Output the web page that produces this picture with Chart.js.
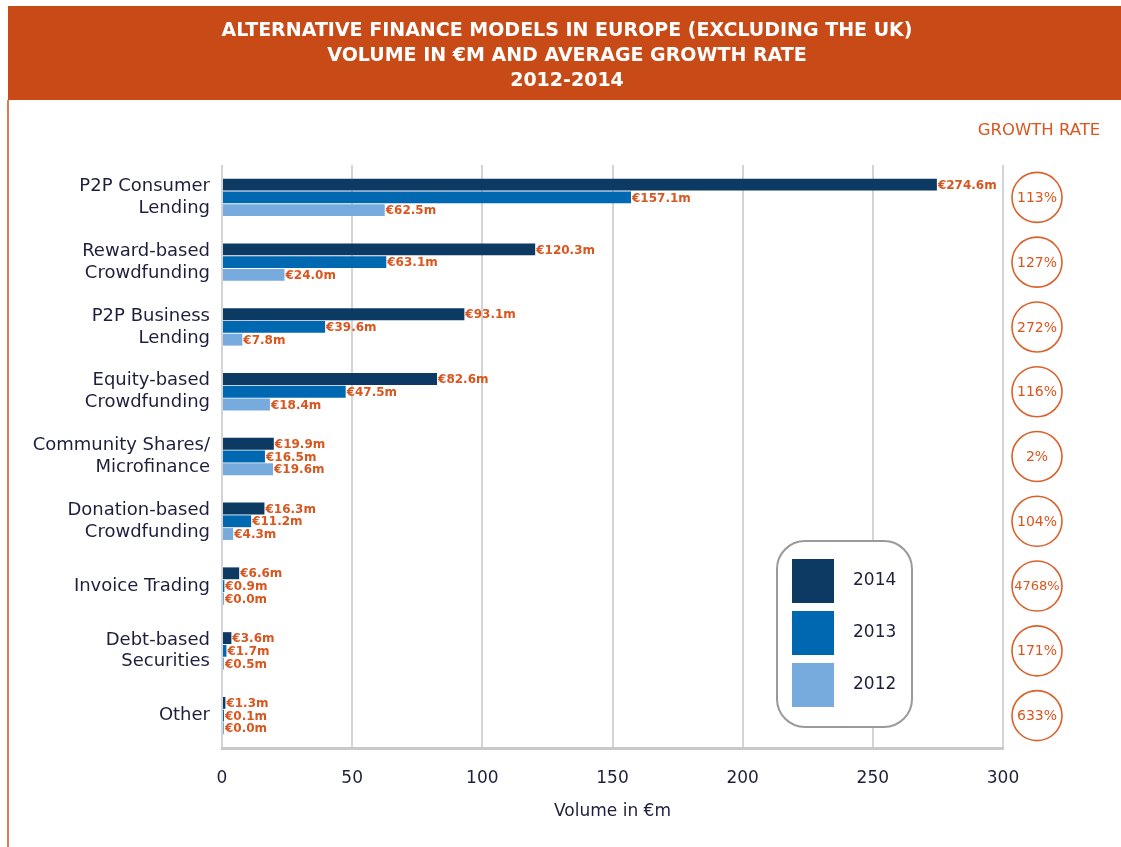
<!DOCTYPE html>
<html><head><meta charset="utf-8">
<script src="https://cdn.jsdelivr.net/npm/chart.js@4/dist/chart.umd.min.js"></script>
<style>html,body{margin:0;padding:0;background:#fff;overflow:hidden}canvas{display:block}</style>
</head><body>
<canvas id="c" width="1121" height="847"></canvas>
<script>
const categories = [["P2P Consumer","Lending"],["Reward-based","Crowdfunding"],["P2P Business","Lending"],["Equity-based","Crowdfunding"],["Community Shares/","Microfinance"],["Donation-based","Crowdfunding"],"Invoice Trading",["Debt-based","Securities"],"Other"];
const volume2014 = [274.6, 120.3, 93.1, 82.6, 19.9, 16.3, 6.6, 3.6, 1.3];
const volume2013 = [157.1, 63.1, 39.6, 47.5, 16.5, 11.2, 0.9, 1.7, 0.1];
const volume2012 = [62.5, 24.0, 7.8, 18.4, 19.6, 4.3, 0.0, 0.5, 0.0];
const growthRates = ["113%","127%","272%","116%","2%","104%","4768%","171%","633%"];
const seriesNames = ["2014","2013","2012"];
const xTickValues = [0, 50, 100, 150, 200, 250, 300];
const titleLines = ["ALTERNATIVE FINANCE MODELS IN EUROPE (EXCLUDING THE UK)","VOLUME IN €M AND AVERAGE GROWTH RATE","2012-2014"];
const xAxisTitle = "Volume in €m";
const growthHeading = "GROWTH RATE";

const COLORS = ["#0d3a63", "#0068b1", "#77abdd"];
const ORANGE = "#c84b17";
const LABEL_ORANGE = "#d9561f";
const TEXT = "#1f1f3d";
const FONT = "'DejaVu Sans', 'Noto Sans', sans-serif";

const decorPlugin = {
  id: 'decor',
  beforeDraw(chart) {
    const ctx = chart.ctx;
    ctx.save();
    ctx.fillStyle = '#fff';
    ctx.fillRect(0, 0, chart.width, chart.height);
    ctx.fillStyle = ORANGE;
    ctx.fillRect(8, 6, chart.width - 8, 94);
    ctx.fillStyle = '#e07a4e';
    ctx.fillRect(7, 100, 2, chart.height - 100);
    ctx.fillStyle = '#fff';
    ctx.font = "bold 19px " + FONT;
    ctx.textAlign = 'center';
    ctx.textBaseline = 'middle';
    titleLines.forEach((t, i) => ctx.fillText(t, 567, 31 + i * 25));
    ctx.fillStyle = LABEL_ORANGE;
    ctx.font = "16.5px " + FONT;
    ctx.fillText(growthHeading, 1039, 131);
    ctx.restore();
  },
  afterDatasetsDraw(chart) {
    const ctx = chart.ctx;
    ctx.save();
    ctx.font = "bold 12px " + FONT;
    ctx.fillStyle = LABEL_ORANGE;
    ctx.textAlign = 'left';
    ctx.textBaseline = 'middle';
    chart.data.datasets.forEach((ds, di) => {
      const meta = chart.getDatasetMeta(di);
      meta.data.forEach((bar, i) => {
        ctx.fillText('€' + ds.data[i].toFixed(1) + 'm', bar.x + 1, bar.y + 1);
      });
    });
    ctx.restore();
  },
  afterDraw(chart) {
    const ctx = chart.ctx;
    const y = chart.scales.y;
    ctx.save();
    growthRates.forEach((g, i) => {
      const cy = y.getPixelForValue(i);
      ctx.beginPath();
      ctx.arc(1037, cy, 25, 0, Math.PI * 2);
      ctx.strokeStyle = '#d9622b';
      ctx.lineWidth = 1.6;
      ctx.stroke();
      ctx.fillStyle = LABEL_ORANGE;
      ctx.font = (g.length > 4 ? "13px " : "14px ") + FONT;
      ctx.textAlign = 'center';
      ctx.textBaseline = 'middle';
      ctx.fillText(g, 1037, cy + 1);
    });
    const bx = 777, by = 541, bw = 135, bh = 186, r = 28;
    ctx.beginPath();
    ctx.moveTo(bx + r, by);
    ctx.arcTo(bx + bw, by, bx + bw, by + bh, r);
    ctx.arcTo(bx + bw, by + bh, bx, by + bh, r);
    ctx.arcTo(bx, by + bh, bx, by, r);
    ctx.arcTo(bx, by, bx + bw, by, r);
    ctx.closePath();
    ctx.fillStyle = '#fff';
    ctx.fill();
    ctx.strokeStyle = '#9a9a9a';
    ctx.lineWidth = 2;
    ctx.stroke();
    seriesNames.forEach((n, i) => {
      const sy = 559 + i * 52;
      ctx.fillStyle = COLORS[i];
      ctx.fillRect(792, sy, 42, 44);
      ctx.fillStyle = TEXT;
      ctx.font = "17px " + FONT;
      ctx.textAlign = 'left';
      ctx.textBaseline = 'middle';
      ctx.fillText(n, 853, sy + 22);
    });
    ctx.restore();
  }
};

new Chart(document.getElementById('c'), {
  type: 'bar',
  data: {
    labels: categories,
    datasets: [
      { label: seriesNames[0], data: volume2014, backgroundColor: COLORS[0] },
      { label: seriesNames[1], data: volume2013, backgroundColor: COLORS[1] },
      { label: seriesNames[2], data: volume2012, backgroundColor: COLORS[2] }
    ]
  },
  options: {
    indexAxis: 'y',
    responsive: false,
    animation: false,
    devicePixelRatio: 1,
    datasets: { bar: { categoryPercentage: 0.59, barPercentage: 0.93, minBarLength: 2 } },
    layout: { padding: { left: 0, right: 118, top: 165, bottom: 0 } },
    plugins: { legend: { display: false }, tooltip: { enabled: false } },
    scales: {
      x: {
        min: 0, max: 300,
        afterBuildTicks(s) { s.ticks = xTickValues.map(v => ({ value: v })); },
        afterFit(s) { s.height = 99; },
        grid: { color: '#d4d4d4', lineWidth: 2, drawTicks: false },
        border: { display: true, color: '#c8c8c8', width: 3 },
        ticks: { color: TEXT, font: { family: FONT, size: 17 }, padding: 20 },
        title: { display: true, text: xAxisTitle, color: TEXT, font: { family: FONT, size: 17 }, padding: { top: 0, bottom: 25 } }
      },
      y: {
        afterFit(s) { s.width = 222; },
        grid: { display: false, drawTicks: false },
        border: { display: false },
        ticks: { color: TEXT, font: { family: FONT, size: 18, lineHeight: 1.22 }, padding: 12 }
      }
    }
  },
  plugins: [decorPlugin]
});
</script>
</body></html>
